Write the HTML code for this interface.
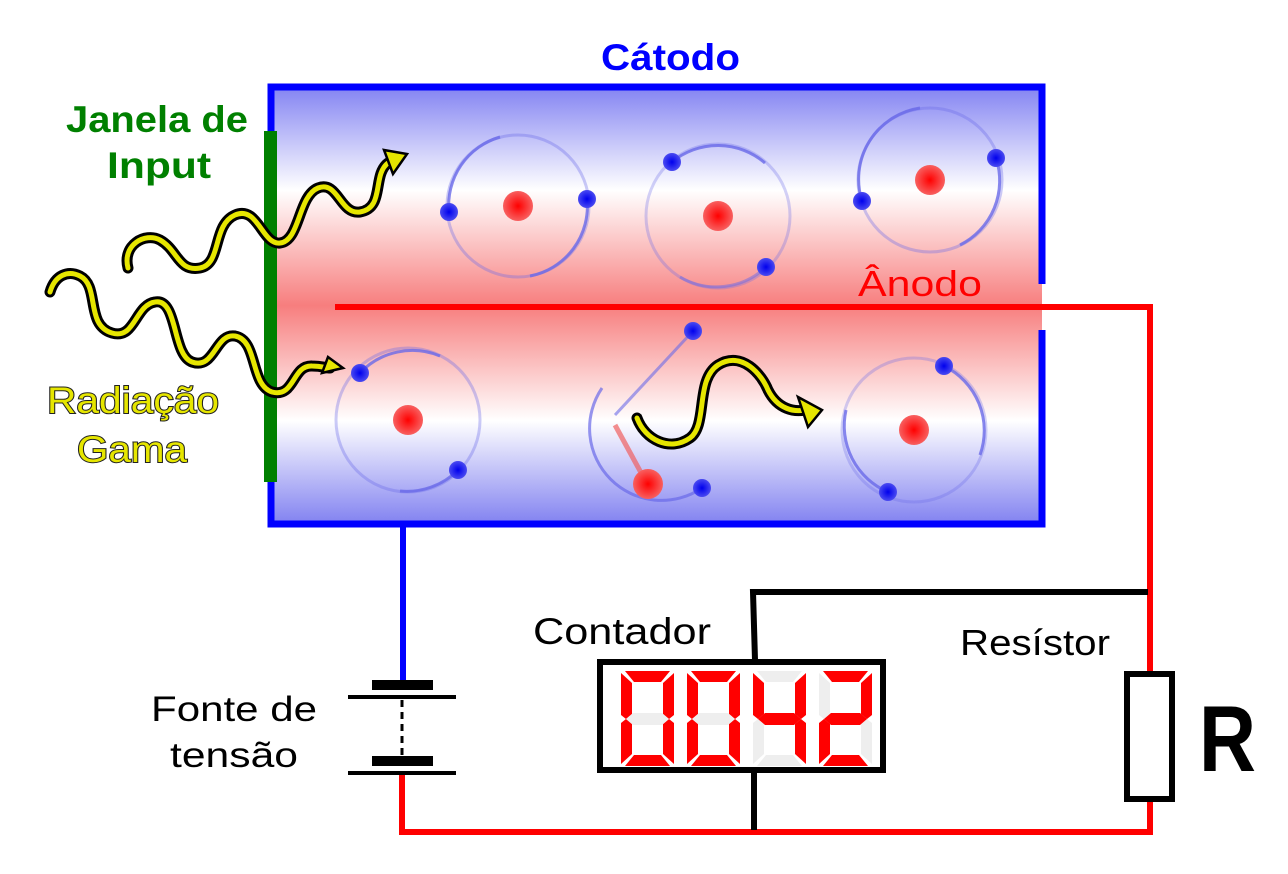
<!DOCTYPE html>
<html><head><meta charset="utf-8"><style>
html,body{margin:0;padding:0;background:#fff}
svg{display:block}
text{font-family:"Liberation Sans","DejaVu Sans",sans-serif}
</style></head><body>
<svg width="1288" height="874" viewBox="0 0 1288 874" xmlns="http://www.w3.org/2000/svg">
<defs>
<linearGradient id="bg" x1="0" y1="84" x2="0" y2="527" gradientUnits="userSpaceOnUse">
<stop offset="0" stop-color="#8080f2"/>
<stop offset="0.24" stop-color="#ffffff"/>
<stop offset="0.5" stop-color="#f77e7e"/>
<stop offset="0.76" stop-color="#ffffff"/>
<stop offset="1" stop-color="#7e7ef0"/>
</linearGradient>
<radialGradient id="nuc"><stop offset="0" stop-color="#ff0000"/><stop offset="1" stop-color="#f86060"/></radialGradient>
<radialGradient id="el"><stop offset="0" stop-color="#0000ee"/><stop offset="1" stop-color="#4a4af0"/></radialGradient>
</defs>
<rect x="271" y="87" width="771" height="437" fill="url(#bg)"/>
<path d="M271 131 V87 H1042 V284" fill="none" stroke="#0000ff" stroke-width="7"/>
<path d="M1042 330 V524 H271 V482" fill="none" stroke="#0000ff" stroke-width="7"/>
<rect x="264" y="131" width="13" height="351" fill="#008000"/>

<g fill="none" stroke="#6a6ae8" stroke-width="3">
 <circle cx="518" cy="206" r="71" stroke-opacity="0.35"/>
 <path d="M449 212 A71 71 0 0 1 500 137" stroke-opacity="0.8"/>
 <path d="M587 199 A71 71 0 0 1 530 276" stroke-opacity="0.8"/>
 <circle cx="718" cy="216" r="72" stroke-opacity="0.3"/>
 <path d="M672 162 A72 72 0 0 1 765 163" stroke-opacity="0.8"/>
 <path d="M766 267 A72 72 0 0 1 680 277" stroke-opacity="0.5"/>
 <circle cx="930" cy="180" r="72" stroke-opacity="0.35"/>
 <path d="M862 201 A72 72 0 0 1 920 108" stroke-opacity="0.8"/>
 <path d="M996 158 A72 72 0 0 1 960 245" stroke-opacity="0.8"/>
 <circle cx="408" cy="420" r="72" stroke-opacity="0.35"/>
 <path d="M360 373 A72 72 0 0 1 440 356" stroke-opacity="0.8"/>
 <path d="M458 470 A72 72 0 0 1 400 491" stroke-opacity="0.8"/>
 <circle cx="914" cy="430" r="72" stroke-opacity="0.3"/>
 <path d="M944 366 A72 72 0 0 1 980 455" stroke-opacity="0.8"/>
 <path d="M888 492 A72 72 0 0 1 846 410" stroke-opacity="0.8"/>
 <path d="M602 388 A72 72 0 0 0 702 488" stroke-opacity="0.7"/>
 <line x1="693" y1="331" x2="615" y2="415" stroke-opacity="0.6"/>
</g>
<line x1="615" y1="425" x2="645" y2="480" stroke="#f06060" stroke-width="5" stroke-opacity="0.7"/>
<g fill="url(#nuc)">
 <circle cx="518" cy="206" r="15"/><circle cx="718" cy="216" r="15"/><circle cx="930" cy="180" r="15"/>
 <circle cx="408" cy="420" r="15"/><circle cx="648" cy="484" r="15"/><circle cx="914" cy="430" r="15"/>
</g>
<g fill="url(#el)">
 <circle cx="449" cy="212" r="9"/><circle cx="587" cy="199" r="9"/>
 <circle cx="672" cy="162" r="9"/><circle cx="766" cy="267" r="9"/>
 <circle cx="862" cy="201" r="9"/><circle cx="996" cy="158" r="9"/>
 <circle cx="360" cy="373" r="9"/><circle cx="458" cy="470" r="9"/>
 <circle cx="693" cy="331" r="9"/><circle cx="702" cy="488" r="9"/>
 <circle cx="944" cy="366" r="9"/><circle cx="888" cy="492" r="9"/>
</g>

<path d="M335 307 H1150 V832 H402 V772" fill="none" stroke="#ff0000" stroke-width="6"/>
<line x1="403" y1="527" x2="403" y2="682" stroke="#0000ff" stroke-width="6"/>
<rect x="372" y="680" width="61" height="10" fill="#000"/>
<rect x="348" y="695" width="108" height="4" fill="#000"/>
<line x1="402" y1="700" x2="402" y2="756" stroke="#000" stroke-width="3" stroke-dasharray="7,5"/>
<rect x="372" y="756" width="61" height="10" fill="#000"/>
<rect x="348" y="771" width="108" height="4" fill="#000"/>

<path d="M755 660 L753 592 H1148" fill="none" stroke="#000" stroke-width="6"/>
<line x1="754" y1="772" x2="754" y2="830" stroke="#000" stroke-width="6"/>
<rect x="600" y="662" width="283" height="108" fill="#fff" stroke="#000" stroke-width="6"/>
<rect x="1127" y="674" width="45" height="125" fill="#fff" stroke="#000" stroke-width="6"/>

<g transform="translate(621,671)">
 <polygon points="4,0 49,0 40,11 13,11" fill="#f00"/><polygon points="42,12 53,2 53,44 48,48 42,43" fill="#f00"/>
 <polygon points="42,53 48,48 53,52 53,93 42,83" fill="#f00"/><polygon points="13,84 40,84 49,95 4,95" fill="#f00"/>
 <polygon points="0,52 5,48 11,53 11,83 0,93" fill="#f00"/><polygon points="0,2 11,12 11,43 5,48 0,44" fill="#f00"/>
 <polygon points="5,48 12,42 41,42 48,48 41,54 12,54" fill="#eee"/>
</g>
<g transform="translate(687,671)">
 <polygon points="4,0 49,0 40,11 13,11" fill="#f00"/><polygon points="42,12 53,2 53,44 48,48 42,43" fill="#f00"/>
 <polygon points="42,53 48,48 53,52 53,93 42,83" fill="#f00"/><polygon points="13,84 40,84 49,95 4,95" fill="#f00"/>
 <polygon points="0,52 5,48 11,53 11,83 0,93" fill="#f00"/><polygon points="0,2 11,12 11,43 5,48 0,44" fill="#f00"/>
 <polygon points="5,48 12,42 41,42 48,48 41,54 12,54" fill="#eee"/>
</g>
<g transform="translate(753,671)">
 <polygon points="4,0 49,0 40,11 13,11" fill="#eee"/><polygon points="42,12 53,2 53,44 48,48 42,43" fill="#f00"/>
 <polygon points="42,53 48,48 53,52 53,93 42,83" fill="#f00"/><polygon points="13,84 40,84 49,95 4,95" fill="#eee"/>
 <polygon points="0,52 5,48 11,53 11,83 0,93" fill="#eee"/><polygon points="0,2 11,12 11,43 5,48 0,44" fill="#f00"/>
 <polygon points="5,48 12,42 41,42 48,48 41,54 12,54" fill="#f00"/>
</g>
<g transform="translate(819,671)">
 <polygon points="4,0 49,0 40,11 13,11" fill="#f00"/><polygon points="42,12 53,2 53,44 48,48 42,43" fill="#f00"/>
 <polygon points="42,53 48,48 53,52 53,93 42,83" fill="#eee"/><polygon points="13,84 40,84 49,95 4,95" fill="#f00"/>
 <polygon points="0,52 5,48 11,53 11,83 0,93" fill="#f00"/><polygon points="0,2 11,12 11,43 5,48 0,44" fill="#eee"/>
 <polygon points="5,48 12,42 41,42 48,48 41,54 12,54" fill="#f00"/>
</g>

<g fill="none" stroke-linecap="round" stroke-linejoin="round">
 <path d="M128 268 C122 245 145 232 160 240 C178 250 178 272 200 268 C222 264 212 225 235 215 C258 205 262 245 280 243 C300 241 298 196 318 188 C338 180 340 215 360 212 C385 208 372 175 388 163" stroke="#000" stroke-width="11"/>
 <path d="M128 268 C122 245 145 232 160 240 C178 250 178 272 200 268 C222 264 212 225 235 215 C258 205 262 245 280 243 C300 241 298 196 318 188 C338 180 340 215 360 212 C385 208 372 175 388 163" stroke="#e6e600" stroke-width="5"/>
 <path d="M50 292 C55 275 68 270 80 276 C100 286 85 325 112 333 C135 340 135 305 155 302 C178 298 172 355 192 362 C215 370 215 333 235 336 C258 340 250 385 272 392 C295 398 292 365 312 366 C322 366 326 368 330 368" stroke="#000" stroke-width="11"/>
 <path d="M50 292 C55 275 68 270 80 276 C100 286 85 325 112 333 C135 340 135 305 155 302 C178 298 172 355 192 362 C215 370 215 333 235 336 C258 340 250 385 272 392 C295 398 292 365 312 366 C322 366 326 368 330 368" stroke="#e6e600" stroke-width="5"/>
 <path d="M637 418 C645 440 670 452 690 438 C708 425 695 380 718 365 C742 350 762 375 768 390 C778 410 795 412 805 410" stroke="#000" stroke-width="11"/>
 <path d="M637 418 C645 440 670 452 690 438 C708 425 695 380 718 365 C742 350 762 375 768 390 C778 410 795 412 805 410" stroke="#e6e600" stroke-width="5"/>
</g>
<g fill="#e6e600" stroke="#000" stroke-width="2.5" stroke-linejoin="miter">
 <polygon points="384,150 407,154 393,174"/>
 <polygon points="328,357 343,368 322,373"/>
 <polygon points="798,397 822,410 808,427"/>
</g>

<text x="601" y="70" font-size="37" font-weight="bold" fill="#0000ff" textLength="139" lengthAdjust="spacingAndGlyphs">Cátodo</text>
<text x="858" y="296" font-size="36" fill="#ff0000" textLength="124" lengthAdjust="spacingAndGlyphs">Ânodo</text>
<text x="66" y="132" font-size="37" font-weight="bold" fill="#008000" textLength="182" lengthAdjust="spacingAndGlyphs">Janela de</text>
<text x="107" y="178" font-size="37" font-weight="bold" fill="#008000" textLength="104" lengthAdjust="spacingAndGlyphs">Input</text>
<text x="47" y="413" font-size="37" fill="#e6e600" stroke="#222" stroke-width="2" paint-order="stroke" textLength="172" lengthAdjust="spacingAndGlyphs">Radiação</text>
<text x="77" y="462" font-size="37" fill="#e6e600" stroke="#222" stroke-width="2" paint-order="stroke" textLength="110" lengthAdjust="spacingAndGlyphs">Gama</text>
<text x="533" y="644" font-size="37" fill="#000" textLength="178" lengthAdjust="spacingAndGlyphs">Contador</text>
<text x="960" y="655" font-size="36" fill="#000" textLength="150" lengthAdjust="spacingAndGlyphs">Resístor</text>
<text x="151" y="721" font-size="35" fill="#000" textLength="166" lengthAdjust="spacingAndGlyphs">Fonte de</text>
<text x="170" y="767" font-size="35" fill="#000" textLength="128" lengthAdjust="spacingAndGlyphs">tensão</text>
<text x="1199" y="771" font-size="94" font-weight="bold" fill="#000" textLength="57" lengthAdjust="spacingAndGlyphs">R</text>
</svg>
</body></html>
